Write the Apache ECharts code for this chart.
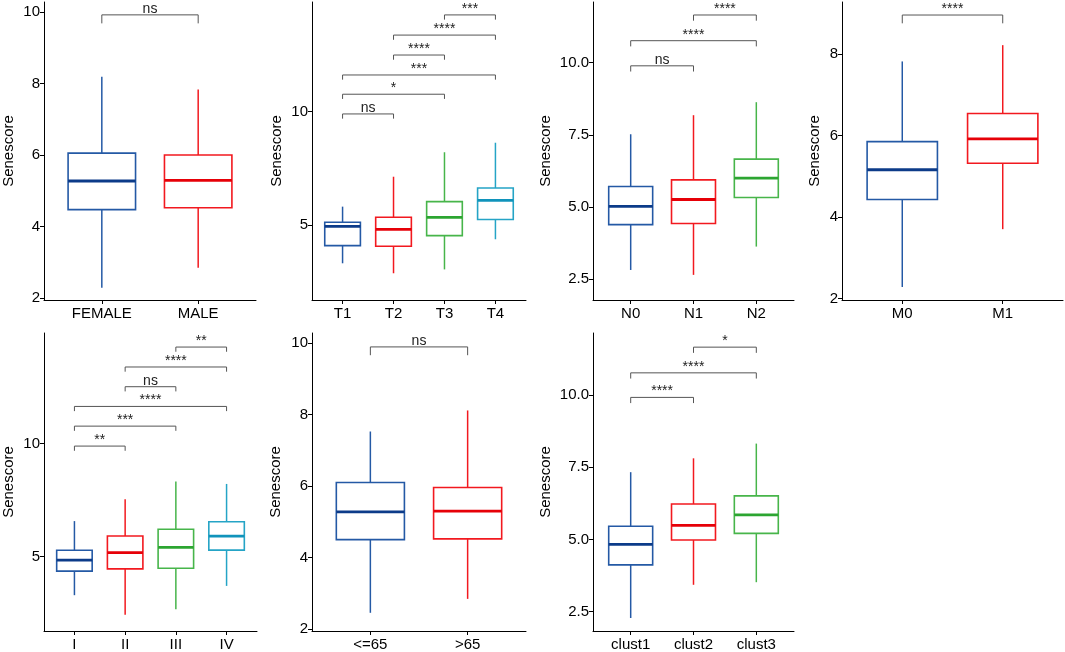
<!DOCTYPE html>
<html>
<head>
<meta charset="utf-8">
<script src="https://cdn.jsdelivr.net/npm/echarts@6/dist/echarts.min.js"></script>
<style>html,body{margin:0;padding:0;background:#fff}#main{width:1065px;height:652px}</style>
</head>
<body>
<div id="main"></div>
<script>
// box stats per group: [lower whisker, Q1, median, Q3, upper whisker]
// tests: [from group, to group, bracket height, label]
const genderCats = ['FEMALE', 'MALE'];
const genderBoxes = [[2.28, 4.47, 5.27, 6.05, 8.19], [2.84, 4.52, 5.29, 6.00, 7.83]];
const genderTests = [[1, 2, 9.92, 'ns']];
const genderTicks = [2, 4, 6, 8, 10];

const tCats = ['T1', 'T2', 'T3', 'T4'];
const tBoxes = [[3.31, 4.09, 4.94, 5.12, 5.81], [2.87, 4.06, 4.81, 5.34, 7.13], [3.04, 4.53, 5.34, 6.03, 8.21], [4.37, 5.24, 6.09, 6.63, 8.63]];
const tTests = [[1, 2, 9.90, 'ns'], [1, 3, 10.77, '*'], [1, 4, 11.62, '***'], [2, 3, 12.50, '****'], [2, 4, 13.38, '****'], [3, 4, 14.27, '***']];
const tTicks = [5, 10];

const nCats = ['N0', 'N1', 'N2'];
const nBoxes = [[2.82, 4.39, 5.02, 5.71, 7.52], [2.65, 4.43, 5.26, 5.94, 8.18], [3.63, 5.33, 6.00, 6.66, 8.63]];
const nTests = [[1, 2, 9.89, 'ns'], [1, 3, 10.76, '****'], [2, 3, 11.65, '****']];
const nTicks = [2.5, 5, 7.5, 10];

const mCats = ['M0', 'M1'];
const mBoxes = [[2.28, 4.43, 5.16, 5.85, 7.82], [3.70, 5.32, 5.92, 6.54, 8.22]];
const mTests = [[1, 2, 8.96, '****']];
const mTicks = [2, 4, 6, 8];

const stageCats = ['I', 'II', 'III', 'IV'];
const stageBoxes = [[3.30, 4.36, 4.85, 5.28, 6.57], [2.44, 4.46, 5.18, 5.91, 7.53], [2.68, 4.49, 5.41, 6.21, 8.32], [3.71, 5.29, 5.91, 6.54, 8.21]];
const stageTests = [[1, 2, 9.88, '**'], [1, 3, 10.76, '***'], [1, 4, 11.63, '****'], [2, 3, 12.50, 'ns'], [2, 4, 13.37, '****'], [3, 4, 14.25, '**']];
const stageTicks = [5, 10];

const ageCats = ['<=65', '>65'];
const ageBoxes = [[2.45, 4.50, 5.28, 6.10, 7.53], [2.84, 4.52, 5.30, 5.96, 8.12]];
const ageTests = [[1, 2, 9.90, 'ns']];
const ageTicks = [2, 4, 6, 8, 10];

const clustCats = ['clust1', 'clust2', 'clust3'];
const clustBoxes = [[2.28, 4.12, 4.83, 5.46, 7.33], [3.43, 4.98, 5.49, 6.23, 7.81], [3.52, 5.21, 5.85, 6.51, 8.32]];
const clustTests = [[1, 2, 9.92, '****'], [1, 3, 10.77, '****'], [2, 3, 11.66, '*']];
const clustTicks = [2.5, 5, 7.5, 10];

const lineColors = ['#2459A5', '#F2191F', '#47B54A', '#25A4C6'];
const medianColors = ['#0C3B89', '#E60008', '#2CA531', '#1093BB'];
const FONT = '"Liberation Sans", Arial, sans-serif';

// panel placement and axis ranges
const panels = [
  { cats: genderCats, boxes: genderBoxes, tests: genderTests, ticks: genderTicks, left: 43, top: 2, width: 213, yMin: 1.94, yMax: 10.28, dec: 0, nameGap: 28, tip: 8.5 },
  { cats: tCats, boxes: tBoxes, tests: tTests, ticks: tTicks, left: 312, top: 2, width: 214, yMin: 1.69, yMax: 14.84, dec: 0, nameGap: 28, tip: 4.7 },
  { cats: nCats, boxes: nBoxes, tests: nTests, ticks: nTicks, left: 593, top: 2, width: 201, yMin: 1.78, yMax: 12.10, dec: 1, nameGap: 40, tip: 5.7 },
  { cats: mCats, boxes: mBoxes, tests: mTests, ticks: mTicks, left: 842, top: 2, width: 221, yMin: 1.96, yMax: 9.28, dec: 0, nameGap: 20, tip: 8.3 },
  { cats: stageCats, boxes: stageBoxes, tests: stageTests, ticks: stageTicks, left: 43, top: 333, width: 214, yMin: 1.72, yMax: 14.87, dec: 0, nameGap: 28, tip: 4.7 },
  { cats: ageCats, boxes: ageBoxes, tests: ageTests, ticks: ageTicks, left: 312, top: 333, width: 214, yMin: 1.94, yMax: 10.29, dec: 0, nameGap: 29, tip: 8.3 },
  { cats: clustCats, boxes: clustBoxes, tests: clustTests, ticks: clustTicks, left: 593, top: 333, width: 201, yMin: 1.83, yMax: 12.15, dec: 1, nameGap: 40, tip: 5.7 }
];
const PANEL_H = 298;

function renderBox(params, api) {
  const i = params.dataIndex;
  const x = api.value(0);
  const half = api.size([0.7, 0])[0] / 2;
  const c = api.coord([x, api.value(3)])[0];
  const py = k => api.coord([x, api.value(k)])[1];
  const lo = py(1), q1 = py(2), md = py(3), q3 = py(4), hi = py(5);
  const col = lineColors[i];
  return {
    type: 'group',
    children: [
      { type: 'line', shape: { x1: c, y1: hi, x2: c, y2: q3 }, style: { stroke: col, lineWidth: 1.5 } },
      { type: 'line', shape: { x1: c, y1: q1, x2: c, y2: lo }, style: { stroke: col, lineWidth: 1.5 } },
      { type: 'rect', shape: { x: c - half, y: q3, width: half * 2, height: q1 - q3 }, style: { stroke: col, fill: '#fff', lineWidth: 1.6 } },
      { type: 'line', shape: { x1: c - half, y1: md, x2: c + half, y2: md }, style: { stroke: medianColors[i], lineWidth: 2.8 } }
    ]
  };
}

function bracketRenderer(tests, tip) {
  return function (params, api) {
    const t = tests[params.dataIndex];
    const a = api.coord([t[0], t[2]]);
    const b = api.coord([t[1], t[2]]);
    return {
      type: 'group',
      children: [
        { type: 'polyline', shape: { points: [[a[0], a[1] + tip], [a[0], a[1]], [b[0], b[1]], [b[0], b[1] + tip]] },
          style: { stroke: '#555', lineWidth: 1, fill: null } },
        { type: 'text', x: (a[0] + b[0]) / 2, y: a[1] + 1,
          style: { text: t[3], fill: '#222', font: '14px ' + FONT, align: 'center', verticalAlign: 'bottom' } }
      ]
    };
  };
}

const grid = [], xAxis = [], yAxis = [], series = [];
panels.forEach((p, k) => {
  const pos = p.cats.map((_, i) => i + 1);
  grid.push({ left: p.left, top: p.top, width: p.width, height: PANEL_H });
  xAxis.push({
    gridIndex: k, type: 'value', min: 0.4, max: p.cats.length + 0.6,
    splitLine: { show: false },
    axisLine: { onZero: false, lineStyle: { color: '#000', width: 1 } },
    axisTick: { customValues: pos, length: 4, lineStyle: { color: '#000' } },
    axisLabel: { customValues: pos, formatter: v => p.cats[Math.round(v) - 1], fontSize: 15, color: '#000', margin: 6, fontFamily: FONT }
  });
  yAxis.push({
    gridIndex: k, type: 'value', min: p.yMin, max: p.yMax,
    name: 'Senescore', nameLocation: 'middle', nameGap: p.nameGap,
    nameTextStyle: { fontSize: 15, color: '#000', fontFamily: FONT },
    splitLine: { show: false },
    axisLine: { show: true, onZero: false, lineStyle: { color: '#000', width: 1 } },
    axisTick: { show: true, customValues: p.ticks, length: 4, lineStyle: { color: '#000' } },
    axisLabel: { customValues: p.ticks, formatter: v => v.toFixed(p.dec), fontSize: 15, color: '#000', margin: 4, fontFamily: FONT }
  });
  series.push({
    type: 'custom', xAxisIndex: k, yAxisIndex: k,
    renderItem: renderBox,
    encode: { x: 0, y: [1, 2, 3, 4, 5] },
    data: p.boxes.map((b, i) => [i + 1].concat(b))
  });
  series.push({
    type: 'custom', xAxisIndex: k, yAxisIndex: k, clip: false,
    renderItem: bracketRenderer(p.tests, p.tip),
    encode: { x: [0, 1], y: 2 },
    data: p.tests.map(t => [t[0], t[1], t[2]])
  });
});

const chart = echarts.init(document.getElementById('main'), null, { renderer: 'canvas' });
chart.setOption({
  animation: false,
  backgroundColor: '#fff',
  textStyle: { fontFamily: FONT },
  grid: grid,
  xAxis: xAxis,
  yAxis: yAxis,
  series: series
});
</script>
</body>
</html>
